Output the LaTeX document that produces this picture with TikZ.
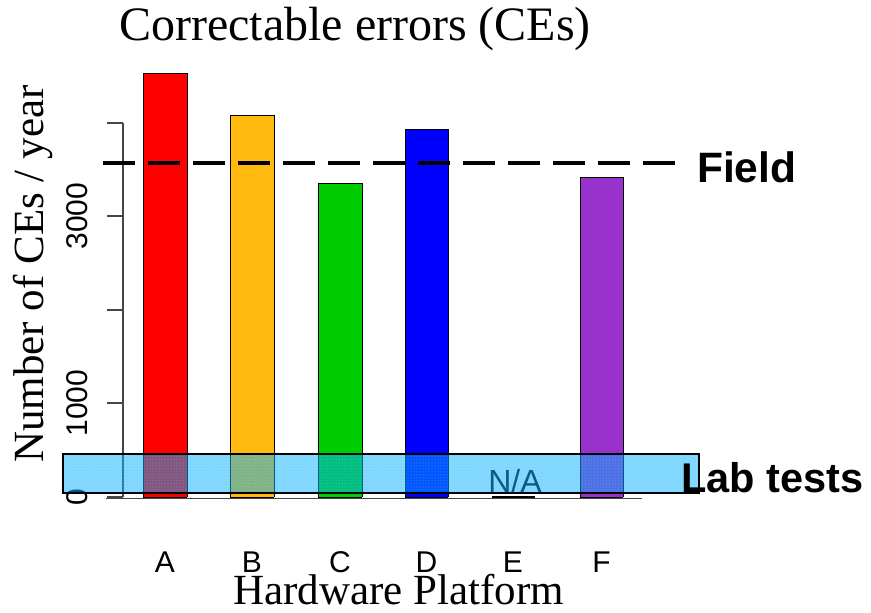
\documentclass[tikz,border=0pt]{standalone}
\usepackage{fontspec}
\setmainfont{Liberation Serif}
\newfontfamily\arialf{Liberation Sans}
\usetikzlibrary{patterns}
\definecolor{barA}{RGB}{255,0,0}
\definecolor{barB}{RGB}{255,185,15}
\definecolor{barC}{RGB}{0,205,0}
\definecolor{barD}{RGB}{0,0,255}
\definecolor{barF}{RGB}{153,50,204}
\definecolor{labblue}{RGB}{0,175,255}
\definecolor{natext}{RGB}{15,90,130}
\definecolor{axisgray}{RGB}{70,70,70}
\tikzset{
  bar/.style={draw=black, line width=0.9pt},
  axisline/.style={draw=axisgray, line width=1.3pt},
  ticklab/.style={font=\arialf\fontsize{30}{30}\selectfont, rotate=90, anchor=south, inner sep=0pt},
  catlab/.style={font=\arialf\fontsize{30}{30}\selectfont, anchor=base, inner sep=0pt},
  bigserif/.style={font=\fontsize{43}{43}\selectfont, inner sep=0pt},
  boldlab/.style={font=\arialf\bfseries\fontsize{42.5}{42.5}\selectfont, anchor=base west, inner sep=0pt},
  fieldline/.style={line width=4pt, dash pattern=on 32pt off 13pt},
}
\begin{document}
\begin{tikzpicture}[x=1pt,y=-1pt]
\useasboundingbox (0,0) rectangle (871,613);
% y axis
\draw[axisline] (123,123) coordinate (ytop) -- (123,497) coordinate (ybot);
\foreach \yy/\nm in {497/t0,403/t1,310/t2,216/t3,123/t4}{
  \draw[axisline] (107,\yy) coordinate (\nm l) -- (123,\yy) coordinate (\nm r);
}
\node[ticklab] (l0) at (88,497) {0};
\node[ticklab] (l1) at (88,403) {1000};
\node[ticklab] (l3) at (88,216) {3000};
% baseline
\draw[axisgray, line width=1pt] (106,498) coordinate (bl) -- (642,498) coordinate (br);
% bars
\fill[barA] (143,73) rectangle (187,497); \draw[bar] (143,497) -- (143,73) -- (187,73) -- (187,497);
\fill[barB] (230,115) rectangle (274,497); \draw[bar] (230,497) -- (230,115) -- (274,115) -- (274,497);
\fill[barC] (318,183) rectangle (362,497); \draw[bar] (318,497) -- (318,183) -- (362,183) -- (362,497);
\fill[barD] (405,129) rectangle (448,497); \draw[bar] (405,497) -- (405,129) -- (448,129) -- (448,497);
\fill[barF] (580,177) rectangle (623,497); \draw[bar] (580,497) -- (580,177) -- (623,177) -- (623,497);
\draw[bar] (143,497) -- (187,497) (230,497) -- (274,497) (318,497) -- (362,497) (405,497) -- (448,497) (580,497) -- (623,497);
\draw[line width=2pt] (492,497) coordinate (e1) -- (535,497) coordinate (e2);
% field line
\draw[fieldline] (103,162.5) coordinate (f1) -- (688,162.5) coordinate (f2);
\node[boldlab] (field) at (697,182) {Field};
% lab tests box
\fill[labblue, fill opacity=0.5] (63,454) rectangle (699,493);
\fill[pattern=dots, pattern color=white, fill opacity=0.4] (63,454) rectangle (699,493);
\draw[black, line width=2pt] (63,454) rectangle (699,493);
\node[font=\arialf\fontsize{32}{32}\selectfont, text=natext, anchor=base, inner sep=0pt] (na) at (515,492) {N/A};
\node[boldlab, font=\arialf\bfseries\fontsize{41.5}{41.5}\selectfont] (lab) at (681,492) {Lab tests};
% category labels
\node[catlab] (ca) at (165,572) {A};
\node[catlab] (cb) at (252,572) {B};
\node[catlab] (cc) at (340,572) {C};
\node[catlab] (cd) at (426.5,572) {D};
\node[catlab] (ce) at (513,572) {E};
\node[catlab] (cf) at (601.5,572) {F};
% titles
\node[font=\fontsize{48}{48}\selectfont, anchor=base, inner sep=0pt] (title) at (355,41) {Correctable errors (CEs)};
\node[bigserif, anchor=base] (xlab) at (398.5,604) {Hardware Platform};
\node[bigserif, rotate=90, anchor=base] (ylab) at (43,274) {Number of CEs / year};
\end{tikzpicture}
\end{document}
